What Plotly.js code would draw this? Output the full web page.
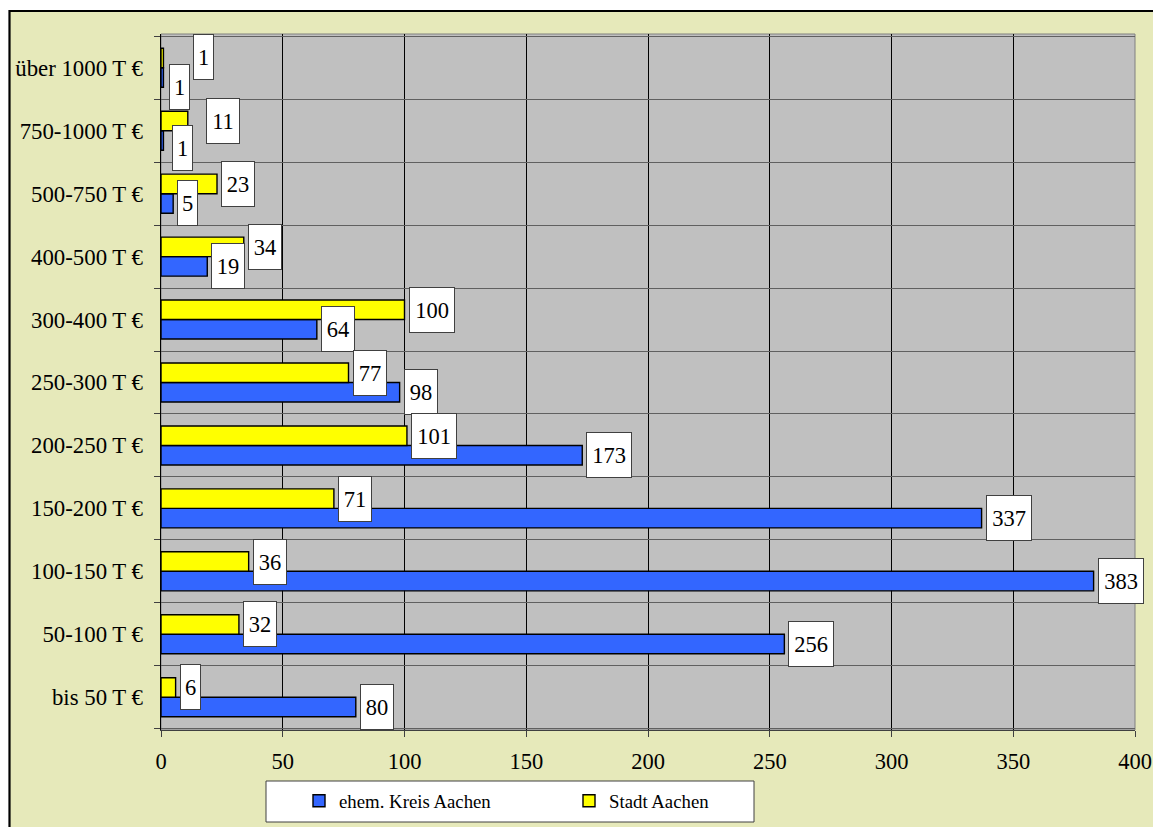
<!DOCTYPE html>
<html>
<head>
<meta charset="utf-8">
<script src="https://cdn.plot.ly/plotly-3.0.1.min.js"></script>
<style>
  html, body { margin: 0; padding: 0; background: #ffffff; }
  #chart { width: 1153px; height: 827px; }
</style>
</head>
<body>
<div id="chart"></div>
<script>
// Größenklassen (bottom to top on the category axis)
const categories = [
  "bis 50 T €", "50-100 T €", "100-150 T €", "150-200 T €", "200-250 T €",
  "250-300 T €", "300-400 T €", "400-500 T €", "500-750 T €", "750-1000 T €",
  "über 1000 T €"
];
const kreisValues = [80, 256, 383, 337, 173, 98, 64, 19, 5, 1, 1];
const stadtValues = [6, 32, 36, 71, 101, 77, 100, 34, 23, 11, 1];
const seriesNames = ["ehem. Kreis Aachen", "Stadt Aachen"];
const xTickValues = [0, 50, 100, 150, 200, 250, 300, 350, 400];

const FONT = "'Liberation Serif', 'Times New Roman', serif";
const BLUE = "#3366FF";
const YELLOW = "#FFFF00";
const BEIGE = "#E6E9BA";
const PLOT_GRAY = "#C0C0C0";

// plot area in pixels
const W = 1153, H = 827;
const M = { l: 161, r: 18, t: 34, b: 97, autoexpand: false };
const plotW = W - M.l - M.r, plotH = H - M.t - M.b;
const px2x = px => (px - M.l) / plotW;
const px2y = py => (H - M.b - py) / plotH;

const traces = [
  {
    type: "bar", orientation: "h", name: seriesNames[0],
    x: kreisValues, y: categories,
    marker: { color: BLUE, line: { color: "#000000", width: 1.4 } },
    hoverinfo: "x+name"
  },
  {
    type: "bar", orientation: "h", name: seriesNames[1],
    x: stadtValues, y: categories,
    marker: { color: YELLOW, line: { color: "#000000", width: 1.4 } },
    hoverinfo: "x+name"
  }
];

// value boxes next to each bar end
const boxWidth = n => [0, 21, 34, 46][String(n).length] - 2;
// hand-placed boxes in the crowded top rows (series index, category index) -> [dx, dy]
const nudges = {
  "0-10": [2, -9], "1-10": [26, 1],
  "0-9": [5, -7], "1-9": [14, 0]
};
const annotations = [];
[kreisValues, stadtValues].forEach((vals, s) => {
  vals.forEach((v, i) => {
    const n = nudges[s + "-" + i] || [0, 0];
    annotations.push({
      x: v, y: categories[i], xref: "x", yref: "y",
      text: String(v), showarrow: false,
      xanchor: "left", yanchor: "middle",
      xshift: 4 + n[0], yshift: (s === 0 ? -9.8 : 9.8) + n[1],
      width: boxWidth(v), height: 44, align: "center", valign: "middle",
      bgcolor: "#ffffff", bordercolor: "#404040", borderwidth: 1, borderpad: 0,
      font: { family: FONT, size: 22.5, color: "#000000" }
    });
  });
});

const layout = {
  width: W, height: H,
  margin: M,
  paper_bgcolor: "#ffffff",
  plot_bgcolor: "rgba(0,0,0,0)",
  barmode: "group",
  bargap: 0.38,
  bargroupgap: 0,
  showlegend: true,
  font: { family: FONT, color: "#000000" },
  xaxis: {
    range: [0, 400],
    tickvals: xTickValues,
    ticks: "outside", ticklen: 6, tickcolor: "#404040",
    showgrid: true, gridcolor: "#000000", gridwidth: 1,
    zeroline: false,
    showline: true, linecolor: "#404040", linewidth: 1,
    ticklabelstandoff: 5,
    tickfont: { family: FONT, size: 22.5, color: "#000000" },
    fixedrange: true
  },
  yaxis: {
    type: "category",
    categoryorder: "array", categoryarray: categories,
    tickson: "boundaries",
    ticks: "outside", ticklen: 6, tickcolor: "#404040",
    showgrid: true, gridcolor: "#606060", gridwidth: 1,
    showline: true, linecolor: "#000000", linewidth: 1.5,
    ticklabelstandoff: 12,
    tickfont: { family: FONT, size: 22.8, color: "#000000" },
    fixedrange: true
  },
  legend: {
    orientation: "h",
    x: px2x(299), xanchor: "left",
    y: px2y(801), yanchor: "middle",
    bgcolor: "rgba(0,0,0,0)",
    borderwidth: 0,
    entrywidth: 225,
    font: { family: FONT, size: 18.8, color: "#000000" }
  },
  shapes: [
    // outer chart frame
    {
      type: "rect", xref: "paper", yref: "paper", layer: "below",
      x0: px2x(9.5), x1: px2x(1220), y0: px2y(880), y1: px2y(11),
      fillcolor: BEIGE, line: { color: "#000000", width: 2.2 }
    },
    // plot area
    {
      type: "rect", xref: "paper", yref: "paper", layer: "below",
      x0: 0, x1: 1, y0: 0, y1: 1,
      fillcolor: PLOT_GRAY, line: { color: "#808080", width: 1 }
    },
    // legend box
    {
      type: "rect", xref: "paper", yref: "paper", layer: "below",
      x0: px2x(266), x1: px2x(754), y0: px2y(822), y1: px2y(781),
      fillcolor: "#ffffff", line: { color: "#404040", width: 1 }
    }
  ],
  annotations: annotations
};

Plotly.newPlot("chart", traces, layout, { displayModeBar: false, staticPlot: true });
</script>
</body>
</html>
